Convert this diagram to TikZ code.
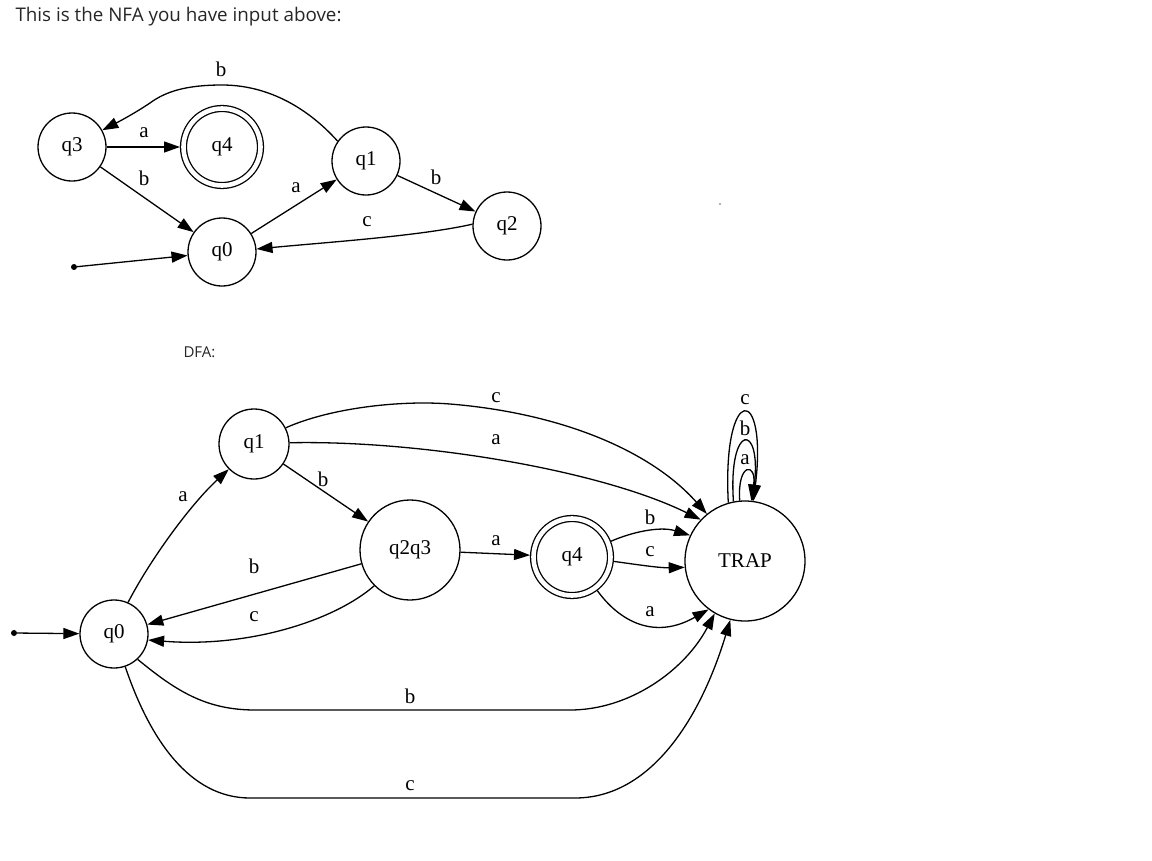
\documentclass[tikz,border=0pt]{standalone}
\usepackage{fontspec}
\setmainfont{Liberation Serif}
\newfontfamily\uifont{Open Sans}
\usetikzlibrary{arrows.meta}
\begin{document}
\begin{tikzpicture}[x=1pt,y=-1pt,
  state/.style={circle,draw,line width=1.3pt,minimum size=68pt,inner sep=0pt,
    font=\fontsize{21}{21}\selectfont},
  accept/.style={state,double,double distance=4.6pt,minimum size=77pt,outer sep=3.5pt},
  arr/.style={-{Triangle[length=16pt,width=11pt]},line width=1.3pt},
  lbl/.style={font=\fontsize{21}{21}\selectfont,inner sep=0pt},
  dotpt/.style={circle,fill,inner sep=0pt,minimum size=6pt}]

% canvas
\fill[white] (0,0) rectangle (1152,860);
\useasboundingbox (0,0) rectangle (1152,860);

% captions
\node[anchor=west,font=\uifont\fontsize{18.8}{18.8}\selectfont,text=black!85] (cap1) at (12,17) {This is the NFA you have input above:};
\node[anchor=west,font=\uifont\fontsize{15}{15}\selectfont,text=black!85] (cap2) at (180,352) {DFA:};
\fill[black!60] (720,204) circle (0.9);

% ---------- NFA ----------
\node[state]  (n3) at (72,147)  {q3};
\node[accept] (n4) at (222,147) {q4};
\node[state]  (n1) at (366,161) {q1};
\node[state]  (n2) at (507,226) {q2};
\node[state]  (n0) at (222,252) {q0};
\node[dotpt]  (ns) at (74,267)  {};

\draw[arr] (ns) -- (n0);
\draw[arr] (n3) -- (n4) node[lbl] at (144,133) {a};
\draw[arr] (n3) -- (n0) node[lbl] at (144,178) {b};
\draw[arr] (n1.145) .. controls (305,105) and (265,85) .. (222,85)
   .. controls (185,85) and (165,92) .. (150,103)
   .. controls (135,113) and (122,120) .. (n3.29);
\node[lbl] (lnb) at (221,69) {b};
\draw[arr] (n0) -- (n1) node[lbl] at (296,188) {a};
\draw[arr] (n1) -- (n2) node[lbl] at (436,177) {b};
\draw[arr] (n2.177) .. controls (420,236) and (330,242) .. (n0.5);
\node[lbl] (lnc) at (367,222) {c};

% ---------- DFA ----------
\node[state]              (d0)   at (114,634) {q0};
\node[state,minimum size=70pt] (d1) at (254,444) {q1};
\node[state,minimum size=100pt] (d23) at (410,550) {q2q3};
\node[accept]             (d4)   at (572,557) {q4};
\node[state,minimum size=120pt] (trap) at (745,561) {TRAP};
\node[dotpt]              (ds)   at (14,633)  {};

\draw[arr] (ds) -- (d0);
\draw[arr] (d0.66) .. controls (150,560) and (190,505) .. (d1.225);
\node[lbl] (la1) at (183,497) {a};
\draw[arr] (d1) -- (d23) node[lbl] at (323,479) {b};
\draw[arr] (d23) -- (d0) node[lbl] at (254,566) {b};
\draw[arr] (d23.225) .. controls (335,620) and (250,648) .. (d0.350);
\node[lbl] (lc1) at (254,617) {c};
\draw[arr] (d23) -- (d4) node[lbl] at (496,541) {a};

% q4 to TRAP
\draw[arr] (d4.22) .. controls (632,532) and (660,526) .. (trap.155);
\node[lbl] (lb4) at (650,517) {b};
\draw[arr] (d4.354) .. controls (640,565) and (660,568) .. (trap.186);
\node[lbl] (lc4) at (650,552) {c};
\draw[arr] (d4.307) .. controls (620,622) and (655,640) .. (trap.233);
\node[lbl] (la4) at (650,612) {a};

% q1 to TRAP
\draw[arr] (d1.27) .. controls (330,408) and (400,400) .. (450,404)
   .. controls (560,413) and (650,450) .. (trap.129);
\node[lbl] (lc2) at (496,398) {c};
\draw[arr] (d1.2) .. controls (420,440) and (600,470) .. (trap.137);
\node[lbl] (la2) at (496,440) {a};

% q0 to TRAP
\draw[arr] (d0.313) .. controls (175,690) and (205,710) .. (255,710) -- (570,710)
   .. controls (630,710) and (685,670) .. (trap.240);
\node[lbl] (lb3) at (410,696) {b};
\draw[arr] (d0.289) .. controls (150,740) and (190,798) .. (250,798) -- (575,798)
   .. controls (650,798) and (700,720) .. (trap.256);
\node[lbl] (lc3) at (410,786) {c};

% self loops on TRAP
\draw[arr] (trap.106) .. controls (722,383) and (768,383) .. (trap.82);
\draw[arr] (trap.101) .. controls (728,422) and (762,422) .. (trap.83);
\draw[arr] (trap.95)  .. controls (737,462) and (757,462) .. (trap.84);
\node[lbl] (lcl) at (745,400) {c};
\node[lbl] (lbl) at (745,428) {b};
\node[lbl] (lal) at (745,460) {a};
\end{tikzpicture}
\end{document}
